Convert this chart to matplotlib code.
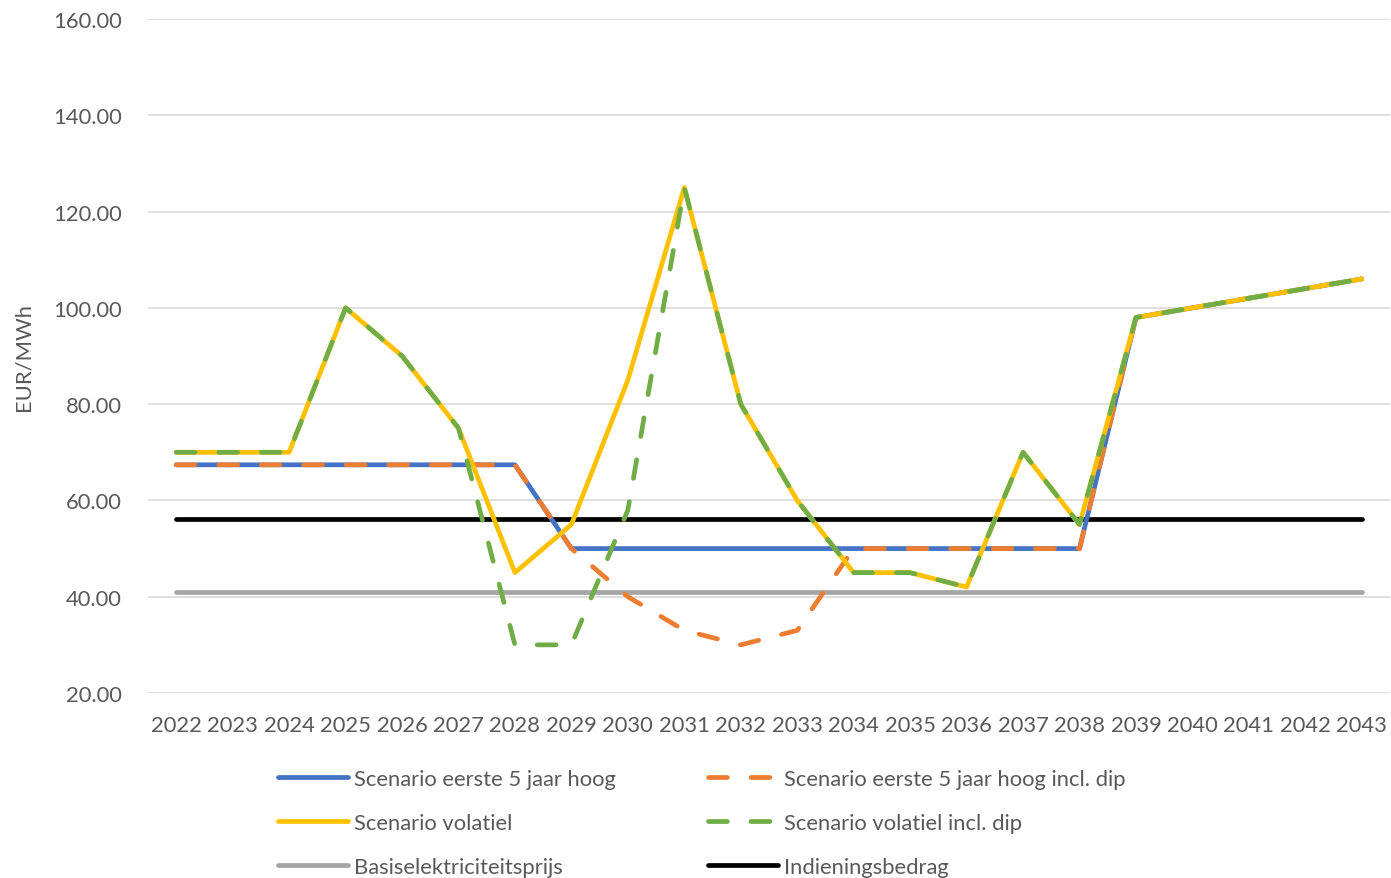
import matplotlib
matplotlib.use("Agg")
import matplotlib.pyplot as plt

years = list(range(2022, 2044))
labels = [str(y) for y in years]

eerste5_hoog = [67.4]*7 + [50]*10 + [98, 100, 102, 104, 106]
eerste5_hoog_dip = [67.4]*7 + [50, 40, 33, 30, 33] + [50]*5 + [98, 100, 102, 104, 106]
volatiel = [70, 70, 70, 100, 90, 75, 45, 55, 85, 125, 80, 60, 45, 45, 42, 70, 55, 98, 100, 102, 104, 106]
volatiel_dip = [70, 70, 70, 100, 90, 75, 30, 30, 58, 125, 80, 60, 45, 45, 42, 70, 55, 98, 100, 102, 104, 106]
basis = [41.0]*22
indiening = [56.2]*22

plt.rcParams['font.family'] = ['Lato', 'DejaVu Sans']
txt = '#595959'
fs = 15.8

fig = plt.figure(figsize=(13.91, 8.79), dpi=100)
ax = fig.add_axes([148/1391, 1-694/879, (1390-148)/1391, (694-20)/879])

x = list(range(len(years)))
lw = 3.4
dash = (4.0, 5.0)
h_basis, = ax.plot(x, basis, color='#a5a5a5', lw=lw, solid_capstyle='round', zorder=2)
h_ind, = ax.plot(x, indiening, color='#000000', lw=lw, solid_capstyle='round', zorder=2.1)
h_blue, = ax.plot(x, eerste5_hoog, color='#4472c4', lw=lw, solid_capstyle='round', solid_joinstyle='round', zorder=3)
h_or, = ax.plot(x, eerste5_hoog_dip, color='#ed7d31', lw=lw, ls=(0, dash), dash_capstyle='round', zorder=4)
h_yel, = ax.plot(x, volatiel, color='#ffc000', lw=lw, solid_capstyle='round', solid_joinstyle='round', zorder=5)
h_gr, = ax.plot(x, volatiel_dip, color='#70ad47', lw=lw, ls=(0, dash), dash_capstyle='round', zorder=6)

ax.set_xlim(-0.5, len(years)-0.5)
ax.set_ylim(20, 160)
ax.set_yticks(range(20, 161, 20))
ax.set_yticklabels([f"{v:.2f}" for v in range(20, 161, 20)])
ax.set_xticks(x)
ax.set_xticklabels(labels)
ax.grid(axis='y', color='#d9d9d9', lw=1.2, zorder=0)
ax.set_axisbelow(True)
for s in ax.spines.values():
    s.set_visible(False)
ax.tick_params(axis='both', length=0, labelsize=fs, colors=txt)
ax.tick_params(axis='y', pad=19)
ax.tick_params(axis='x', pad=16)
ax.set_ylabel('EUR/MWh', fontsize=fs, color=txt, labelpad=14)

common = dict(loc='center left', frameon=False, fontsize=fs, handlelength=3.2,
              handletextpad=0.25, labelspacing=1.1, borderpad=0, borderaxespad=0,
              labelcolor=txt)
leg1 = fig.legend([h_blue, h_yel, h_basis],
                  ['Scenario eerste 5 jaar hoog', 'Scenario volatiel', 'Basiselektriciteitsprijs'],
                  bbox_to_anchor=(278/1391, 1-824/879), **common)
leg2 = fig.legend([h_or, h_gr, h_ind],
                  ['Scenario eerste 5 jaar hoog incl. dip', 'Scenario volatiel incl. dip', 'Indieningsbedrag'],
                  bbox_to_anchor=(708/1391, 1-824/879), **common)

fig.savefig('out.png', dpi=100)
